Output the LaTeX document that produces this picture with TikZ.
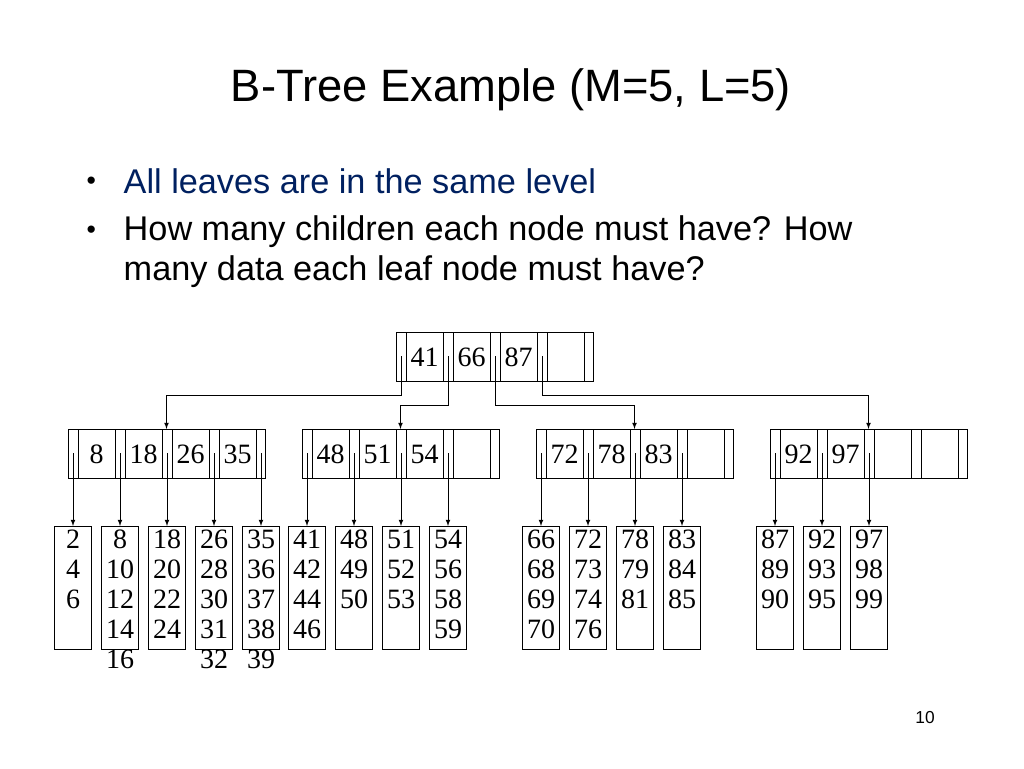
\documentclass[tikz,border=0pt]{standalone}
\usepackage{fontspec}
\setmainfont{Liberation Serif}
\newfontfamily\slidefont{Liberation Sans}
\usetikzlibrary{calc}
\definecolor{navy}{RGB}{0,32,96}
\tikzset{
  keytext/.style={font=\fontsize{21}{21}\selectfont},
  leaftext/.style={font=\fontsize{21}{22.5}\selectfont,align=center,anchor=north,inner sep=0pt},
  ptr/.style={semithick,-latex}
}
% internal B-tree node: name, left x, top y, keys
\newcommand{\btnode}[4]{
  \draw[semithick] (#2,#3) rectangle ++(197,49);
  \foreach \k [count=\i from 0] in {0,...,3} {
    \draw[semithick] (#2+10+47*\i,#3) -- ++(0,49) (#2+47+47*\i,#3) -- ++(0,49);
  }
  \foreach \i in {0,...,4} {
    \coordinate (#1-s\i) at (#2+5+47*\i,#3+24);
  }
  \foreach \t [count=\i from 0] in {#4} {
    \node[keytext] (#1-k\i) at (#2+28.5+47*\i,#3+25) {\t};
  }
  \coordinate (#1-top) at (#2+98.5,#3);
}
\begin{document}
\begin{tikzpicture}[x=0.75pt,y=-0.75pt]
  \useasboundingbox (0,0) rectangle (1024,768);
  \node[font=\slidefont\fontsize{34}{34}\selectfont] (title) at (511,90) {B-Tree Example (M=5, L=5)};
  \node[font=\slidefont\fontsize{20}{20}\selectfont,anchor=west] (b1) at (82,183) {\textbullet};
  \node[font=\slidefont\fontsize{25.7}{25.7}\selectfont,anchor=west,text=navy] (q1) at (119,181) {All leaves are in the same level};
  \node[font=\slidefont\fontsize{20}{20}\selectfont,anchor=west] (b2) at (82,232) {\textbullet};
  \node[font=\slidefont\fontsize{25.7}{30}\selectfont,anchor=north west,align=left] (q2) at (119,211)
    {How many children each node must have? How\\many data each leaf node must have?};
  \node[font=\slidefont\fontsize{13}{13}\selectfont] (page) at (925,718) {10};

  \btnode{root}{396}{332}{41,66,87}
  \btnode{na}{68}{429}{8,18,26,35}
  \btnode{nb}{302}{429}{48,51,54}
  \btnode{nc}{536}{429}{72,78,83}
  \btnode{nd}{770}{429}{92,97}

  % root pointers
  \draw[ptr] (root-s0) -- (root-s0 |- 0,395) -| (na-top);
  \draw[ptr] (root-s1) -- (root-s1 |- 0,405) -| (nb-top);
  \draw[ptr] (root-s2) -- (root-s2 |- 0,405) -| (nc-top);
  \draw[ptr] (root-s3) -- (root-s3 |- 0,395) -| (nd-top);

  % leaves
  \foreach \p/\d [count=\n] in {
      na-s0/{2\\4\\6}, na-s1/{8\\10\\12\\14\\16}, na-s2/{18\\20\\22\\24},
      na-s3/{26\\28\\30\\31\\32}, na-s4/{35\\36\\37\\38\\39},
      nb-s0/{41\\42\\44\\46}, nb-s1/{48\\49\\50}, nb-s2/{51\\52\\53}, nb-s3/{54\\56\\58\\59},
      nc-s0/{66\\68\\69\\70}, nc-s1/{72\\73\\74\\76}, nc-s2/{78\\79\\81}, nc-s3/{83\\84\\85},
      nd-s0/{87\\89\\90}, nd-s1/{92\\93\\95}, nd-s2/{97\\98\\99}} {
    \node[draw,semithick,minimum width=27.75pt,minimum height=92.25pt,anchor=north,inner sep=0pt]
      (leaf\n) at (\p |- 0,526) {};
    \node[leaftext] (leaf\n-txt) at ($(leaf\n.north)+(0,4)$) {\d};
    \draw[ptr] (\p) -- (leaf\n.north);
  }
\end{tikzpicture}
\end{document}
